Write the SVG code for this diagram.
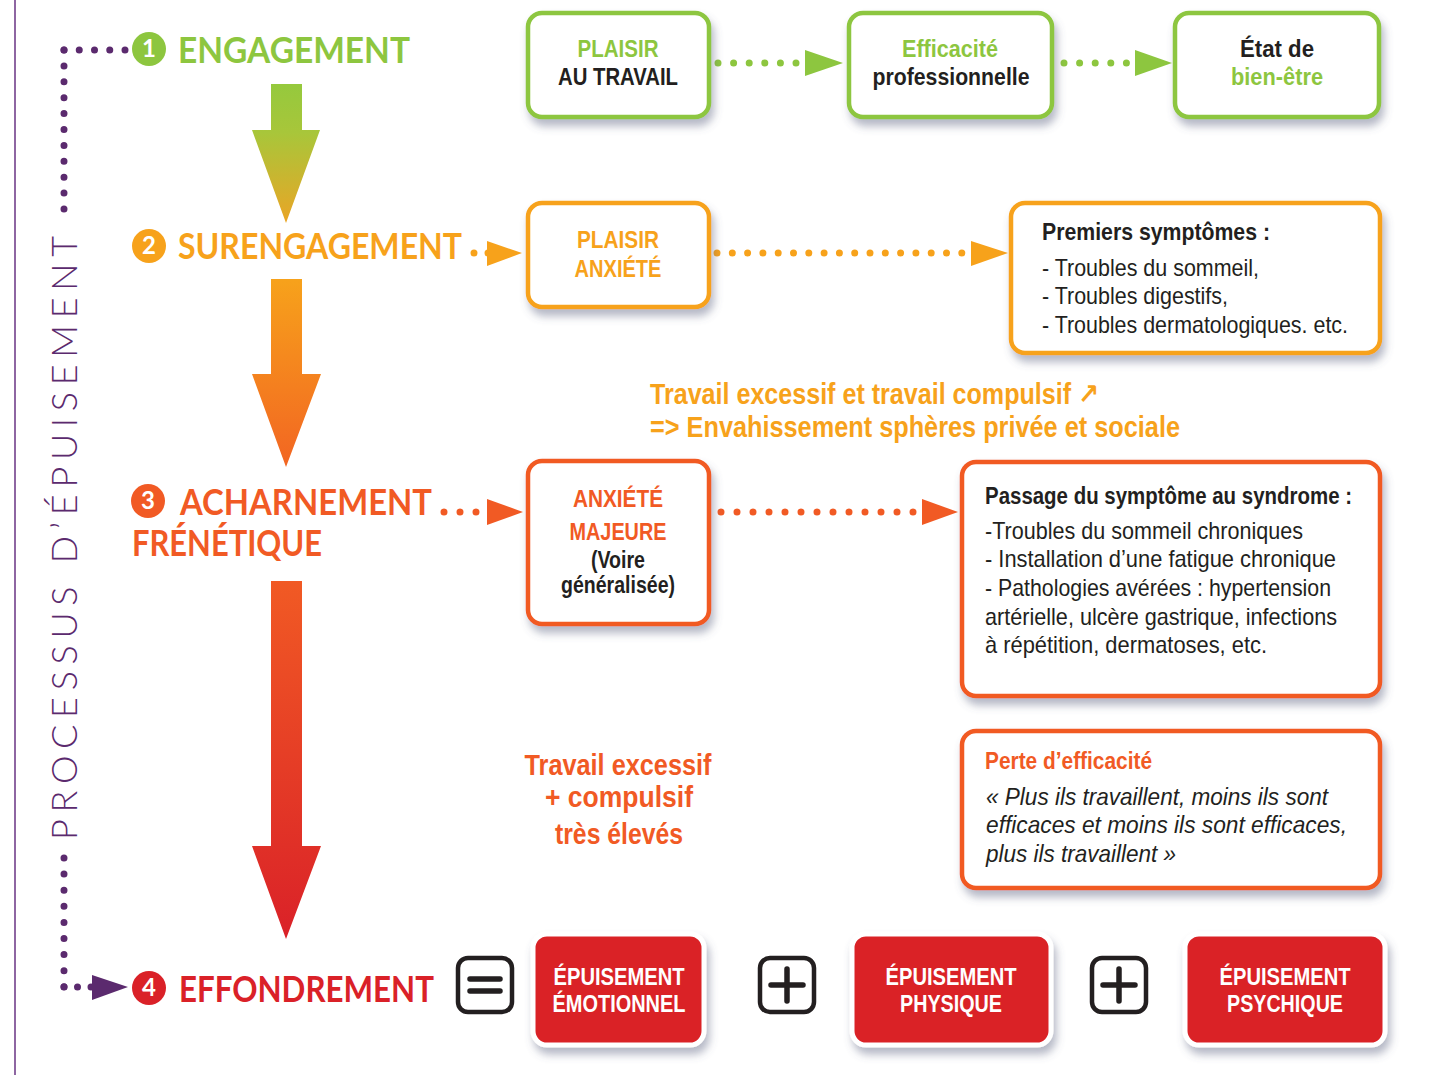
<svg xmlns="http://www.w3.org/2000/svg" width="1439" height="1075" viewBox="0 0 1439 1075">
<defs>
<style>
.title{font-family:Lato,"Liberation Sans",Arial,sans-serif;font-weight:700;font-size:36px}
.num{font-family:Lato,"Liberation Sans",Arial,sans-serif;font-weight:700;font-size:24px;fill:#fff;text-anchor:middle}
.cb{font-family:"Liberation Sans Narrow","Liberation Sans",Arial,sans-serif;font-weight:700;font-size:24px;text-anchor:middle}
.rb{font-family:"Liberation Sans Narrow","Liberation Sans",Arial,sans-serif;font-weight:700;font-size:24px;fill:#fff;text-anchor:middle}
.bh{font-family:"Liberation Sans Narrow","Liberation Sans",Arial,sans-serif;font-weight:700;font-size:24px;fill:#231f20}
.bt{font-family:"Liberation Sans Narrow","Liberation Sans",Arial,sans-serif;font-size:24px;fill:#231f20}
.bi{font-family:"Liberation Sans Narrow","Liberation Sans",Arial,sans-serif;font-style:italic;font-size:24px;fill:#231f20}
.mid{font-family:"Liberation Sans Narrow","Liberation Sans",Arial,"DejaVu Sans",sans-serif;font-weight:700;font-size:29px}
.box{fill:#fff;stroke-width:4.5;filter:url(#sh)}
.g{stroke:#8dc63f}.o{stroke:#f7a21b}.r{stroke:#f15a24}
.red{fill:#da2128;stroke:#fff;stroke-width:5;filter:url(#sh)}
.op{fill:#fff;stroke:#231f20;stroke-width:4.5}
.opl{stroke:#231f20;stroke-width:5.5;stroke-linecap:round;fill:none}
.dots{fill:none;stroke-width:7;stroke-linecap:round}
</style>
<filter id="sh" x="-15%" y="-15%" width="135%" height="140%">
<feDropShadow dx="3" dy="7" stdDeviation="4" flood-color="#5a6080" flood-opacity="0.45"/>
</filter>
<linearGradient id="ga1" gradientUnits="userSpaceOnUse" x1="0" y1="84" x2="0" y2="223">
<stop offset="0" stop-color="#95c93d"/><stop offset="0.35" stop-color="#a8c63a"/><stop offset="1" stop-color="#eaa526"/>
</linearGradient>
<linearGradient id="ga2" gradientUnits="userSpaceOnUse" x1="0" y1="279" x2="0" y2="467">
<stop offset="0" stop-color="#f7a21b"/><stop offset="1" stop-color="#f26522"/>
</linearGradient>
<linearGradient id="ga3" gradientUnits="userSpaceOnUse" x1="0" y1="581" x2="0" y2="939">
<stop offset="0" stop-color="#f15a24"/><stop offset="1" stop-color="#da2128"/>
</linearGradient>
</defs>
<rect width="1439" height="1075" fill="#fff"/>

<!-- side frame and vertical label -->
<g id="side">
<line x1="15" y1="0" x2="15" y2="1075" stroke="#8e66a2" stroke-width="2"/>
<text transform="translate(77,538) rotate(-90)" text-anchor="middle" textLength="604" lengthAdjust="spacing" font-family="Lato,'Open Sans',sans-serif" font-weight="300" font-size="36" fill="#5b2a6e">PROCESSUS D’ÉPUISEMENT</text>
</g>

<!-- connectors -->
<g id="connectors">
<path class="dots" stroke="#5b2a6e" stroke-dasharray="0 15.25" d="M64,50 H125.5"/>
<path class="dots" stroke="#5b2a6e" stroke-dasharray="0 15.9" d="M64,50 V209.5"/>
<path class="dots" stroke="#5b2a6e" stroke-dasharray="0 16.1" d="M64,858 V987.5"/>
<path class="dots" stroke="#5b2a6e" stroke-dasharray="0 13.5" d="M64,987 H91.5"/>
<polygon points="92,975 128,987 92,1000" fill="#5b2a6e"/>

<polygon points="271,84 302,84 302,130 320,130 286,223 252,130 271,130" fill="url(#ga1)"/>
<polygon points="271,279 302,279 302,374 321,374 286,467 252,374 271,374" fill="url(#ga2)"/>
<polygon points="271,581 302,581 302,846 321,846 286,939 252,846 271,846" fill="url(#ga3)"/>

<path class="dots" stroke="#8dc63f" stroke-dasharray="0 15.6" d="M718,63 H796.5"/>
<polygon points="805,50 843,63 805,76" fill="#8dc63f"/>
<path class="dots" stroke="#8dc63f" stroke-dasharray="0 15.6" d="M1064,63 H1127"/>
<polygon points="1135,50 1172,63 1135,76" fill="#8dc63f"/>

<path class="dots" stroke="#f7a21b" stroke-dasharray="0 14" d="M474,253 H488.5"/>
<polygon points="487,241 522,253 487,266" fill="#f7a21b"/>
<path class="dots" stroke="#f7a21b" stroke-dasharray="0 15.3" d="M717,253 H962.5"/>
<polygon points="971,241 1008,253 971,266" fill="#f7a21b"/>

<path class="dots" stroke="#f15a24" stroke-dasharray="0 16" d="M444,512 H476.5"/>
<polygon points="487,499 523,512 487,525" fill="#f15a24"/>
<path class="dots" stroke="#f15a24" stroke-dasharray="0 16" d="M721,512 H913.5"/>
<polygon points="922,499 958,512 922,525" fill="#f15a24"/>
</g>

<!-- stage titles -->
<g id="stage1">
<circle cx="149" cy="49" r="17" fill="#8dc63f"/><text class="num" x="149" y="57">1</text>
<text class="title" x="178" y="63" fill="#8dc63f" textLength="232" lengthAdjust="spacingAndGlyphs">ENGAGEMENT</text>
</g>
<g id="stage2">
<circle cx="149" cy="246" r="17" fill="#f7a21b"/><text class="num" x="149" y="254">2</text>
<text class="title" x="178" y="259" fill="#f7a21b" textLength="284" lengthAdjust="spacingAndGlyphs">SURENGAGEMENT</text>
</g>
<g id="stage3">
<circle cx="148" cy="501" r="17" fill="#f15a24"/><text class="num" x="148" y="509">3</text>
<text class="title" x="180" y="515" fill="#f15a24" textLength="252" lengthAdjust="spacingAndGlyphs">ACHARNEMENT</text>
<text class="title" x="132" y="556" fill="#f15a24" textLength="190" lengthAdjust="spacingAndGlyphs">FRÉNÉTIQUE</text>
</g>
<g id="stage4">
<circle cx="149" cy="988" r="17" fill="#da2128"/><text class="num" x="149" y="996">4</text>
<text class="title" x="179" y="1002" fill="#da2128" textLength="255" lengthAdjust="spacingAndGlyphs">EFFONDREMENT</text>
</g>

<!-- row 1 -->
<g id="plaisir-travail">
<rect class="box g" x="528" y="13" width="181" height="104" rx="14"/>
<text class="cb" x="618" y="57" fill="#8dc63f" textLength="81" lengthAdjust="spacingAndGlyphs">PLAISIR</text>
<text class="cb" x="618" y="85" fill="#231f20" textLength="120" lengthAdjust="spacingAndGlyphs">AU TRAVAIL</text>
</g>
<g id="efficacite">
<rect class="box g" x="849" y="13" width="203" height="104" rx="14"/>
<text class="cb" x="950" y="57" fill="#8dc63f" textLength="96" lengthAdjust="spacingAndGlyphs">Efficacité</text>
<text class="cb" x="951" y="85" fill="#231f20" textLength="157" lengthAdjust="spacingAndGlyphs">professionnelle</text>
</g>
<g id="bien-etre">
<rect class="box g" x="1175" y="13" width="204" height="104" rx="14"/>
<text class="cb" x="1277" y="57" fill="#231f20" textLength="74" lengthAdjust="spacingAndGlyphs">État de</text>
<text class="cb" x="1277" y="85" fill="#8dc63f" textLength="92" lengthAdjust="spacingAndGlyphs">bien-être</text>
</g>

<!-- row 2 -->
<g id="plaisir-anxiete">
<rect class="box o" x="528" y="203" width="181" height="104" rx="14"/>
<text class="cb" x="618" y="248" fill="#f7a21b" textLength="82" lengthAdjust="spacingAndGlyphs">PLAISIR</text>
<text class="cb" x="618" y="277" fill="#f7a21b" textLength="87" lengthAdjust="spacingAndGlyphs">ANXIÉTÉ</text>
</g>
<g id="premiers-symptomes">
<rect class="box o" x="1011" y="203" width="369" height="150" rx="14"/>
<text class="bh" x="1042" y="240" textLength="228" lengthAdjust="spacingAndGlyphs">Premiers symptômes :</text>
<text class="bt" x="1042" y="276" textLength="217" lengthAdjust="spacingAndGlyphs">- Troubles du sommeil,</text>
<text class="bt" x="1042" y="304" textLength="186" lengthAdjust="spacingAndGlyphs">- Troubles digestifs,</text>
<text class="bt" x="1042" y="333" textLength="306" lengthAdjust="spacingAndGlyphs">- Troubles dermatologiques. etc.</text>
</g>

<g id="note-excessif">
<text class="mid" x="650" y="404" fill="#f7a21b" textLength="449" lengthAdjust="spacingAndGlyphs">Travail excessif et travail compulsif ↗</text>
<text class="mid" x="650" y="437" fill="#f7a21b" textLength="530" lengthAdjust="spacingAndGlyphs">=&gt; Envahissement sphères privée et sociale</text>
</g>

<!-- row 3 -->
<g id="anxiete-majeure">
<rect class="box r" x="528" y="461" width="181" height="163" rx="14"/>
<text class="cb" x="618" y="507" fill="#f15a24" textLength="90" lengthAdjust="spacingAndGlyphs">ANXIÉTÉ</text>
<text class="cb" x="618" y="540" fill="#f15a24" textLength="97" lengthAdjust="spacingAndGlyphs">MAJEURE</text>
<text class="cb" x="618" y="568" fill="#231f20" textLength="54" lengthAdjust="spacingAndGlyphs">(Voire</text>
<text class="cb" x="618" y="593" fill="#231f20" textLength="114" lengthAdjust="spacingAndGlyphs">généralisée)</text>
</g>
<g id="syndrome">
<rect class="box r" x="962" y="462" width="418" height="234" rx="14"/>
<text class="bh" x="985" y="504" textLength="367" lengthAdjust="spacingAndGlyphs">Passage du symptôme au syndrome :</text>
<text class="bt" x="985" y="539" textLength="318" lengthAdjust="spacingAndGlyphs">-Troubles du sommeil chroniques</text>
<text class="bt" x="985" y="567" textLength="351" lengthAdjust="spacingAndGlyphs">- Installation d’une fatigue chronique</text>
<text class="bt" x="985" y="596" textLength="346" lengthAdjust="spacingAndGlyphs">- Pathologies avérées : hypertension</text>
<text class="bt" x="985" y="625" textLength="352" lengthAdjust="spacingAndGlyphs">artérielle, ulcère gastrique, infections</text>
<text class="bt" x="985" y="653" textLength="282" lengthAdjust="spacingAndGlyphs">à répétition, dermatoses,  etc.</text>
</g>
<g id="travail-excessif">
<text class="mid" x="618" y="775" fill="#f15a24" text-anchor="middle" textLength="187" lengthAdjust="spacingAndGlyphs">Travail excessif</text>
<text class="mid" x="619" y="807" fill="#f15a24" text-anchor="middle" textLength="148" lengthAdjust="spacingAndGlyphs">+ compulsif</text>
<text class="mid" x="619" y="844" fill="#f15a24" text-anchor="middle" textLength="128" lengthAdjust="spacingAndGlyphs">très élevés</text>
</g>
<g id="perte-efficacite">
<rect class="box r" x="962" y="731" width="418" height="157" rx="14"/>
<text class="bh" x="985" y="769" style="fill:#f15a24" textLength="167" lengthAdjust="spacingAndGlyphs">Perte d’efficacité</text>
<text class="bi" x="986" y="805" textLength="342" lengthAdjust="spacingAndGlyphs">« Plus ils travaillent, moins ils sont</text>
<text class="bi" x="986" y="833" textLength="361" lengthAdjust="spacingAndGlyphs">efficaces et moins ils sont efficaces,</text>
<text class="bi" x="986" y="862" textLength="190" lengthAdjust="spacingAndGlyphs">plus ils travaillent »</text>
</g>

<!-- row 4 -->
<g id="op-egal">
<rect class="op" x="458" y="958" width="54" height="54" rx="10"/>
<path class="opl" d="M470,979 H500 M470,991 H500"/>
</g>
<g id="epuisement-emotionnel">
<rect class="red" x="533" y="934" width="171" height="111" rx="14"/>
<text class="rb" x="619" y="985" textLength="131" lengthAdjust="spacingAndGlyphs">ÉPUISEMENT</text>
<text class="rb" x="619" y="1012" textLength="133" lengthAdjust="spacingAndGlyphs">ÉMOTIONNEL</text>
</g>
<g id="op-plus1">
<rect class="op" x="760" y="958" width="54" height="54" rx="10"/>
<path class="opl" d="M771,985 H803 M787,969 V1001"/>
</g>
<g id="epuisement-physique">
<rect class="red" x="852" y="934" width="199" height="111" rx="14"/>
<text class="rb" x="951" y="985" textLength="131" lengthAdjust="spacingAndGlyphs">ÉPUISEMENT</text>
<text class="rb" x="951" y="1012" textLength="102" lengthAdjust="spacingAndGlyphs">PHYSIQUE</text>
</g>
<g id="op-plus2">
<rect class="op" x="1092" y="958" width="54" height="54" rx="10"/>
<path class="opl" d="M1103,985 H1135 M1119,969 V1001"/>
</g>
<g id="epuisement-psychique">
<rect class="red" x="1185" y="934" width="200" height="111" rx="14"/>
<text class="rb" x="1285" y="985" textLength="131" lengthAdjust="spacingAndGlyphs">ÉPUISEMENT</text>
<text class="rb" x="1285" y="1012" textLength="116" lengthAdjust="spacingAndGlyphs">PSYCHIQUE</text>
</g>
</svg>
